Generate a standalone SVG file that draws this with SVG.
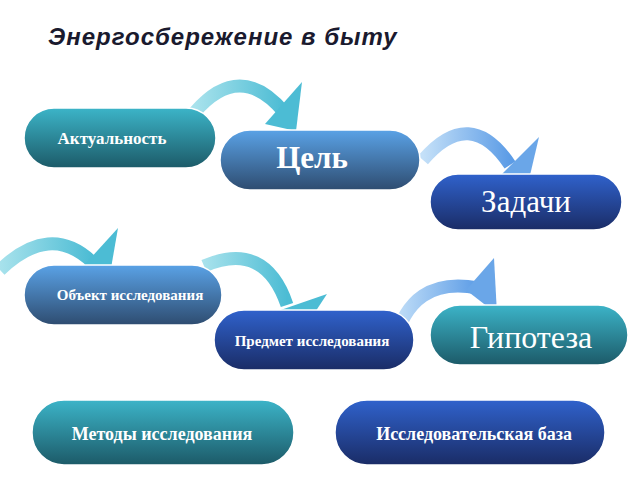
<svg xmlns="http://www.w3.org/2000/svg" width="640" height="480" viewBox="0 0 640 480">
<defs>
<linearGradient id="teal" x1="0" y1="0" x2="0" y2="1"><stop offset="0" stop-color="#3cb4c8"/><stop offset="1" stop-color="#1c5a68"/></linearGradient>
<linearGradient id="steel" x1="0" y1="0" x2="0" y2="1"><stop offset="0" stop-color="#5aa2e6"/><stop offset="1" stop-color="#2e4c70"/></linearGradient>
<linearGradient id="dark" x1="0" y1="0" x2="0" y2="1"><stop offset="0" stop-color="#3062cc"/><stop offset="1" stop-color="#1a2c66"/></linearGradient>
<linearGradient id="arr" x1="0" y1="0" x2="1" y2="0"><stop offset="0" stop-color="#a8e2ec"/><stop offset="1" stop-color="#4cbcd4"/></linearGradient>
<linearGradient id="arrb" x1="0" y1="0" x2="1" y2="0"><stop offset="0" stop-color="#c4e0f8"/><stop offset="1" stop-color="#5c9ce6"/></linearGradient>
</defs>
<style>
.n{stroke:#ffffff;stroke-width:1.5}
.t{font-family:"Liberation Serif",serif;fill:#ffffff;text-anchor:middle}
.b{font-weight:bold}
.a{fill:none;stroke-width:13;stroke-linecap:butt}
</style>
<rect width="640" height="480" fill="#ffffff"/>
<text x="48" y="45" font-family="Liberation Sans,Arial,sans-serif" font-size="24" font-weight="bold" font-style="italic" fill="#1a1a2e" letter-spacing="1">Энергосбережение в быту</text>
<g id="connectors">
<path class="a" stroke="url(#arr)" d="M195,112 Q240,60 284,112"/><polygon fill="#4cbcd4" points="302,82 265,124 296,131"/>
<path class="a" stroke="url(#arrb)" d="M423,160 Q470,105 510,165"/><polygon fill="#6aa6e8" points="539,137 500,176 527,188"/>
<path class="a" stroke="url(#arr)" d="M0,270 Q50,222 92,262"/><polygon fill="#4cbcd4" points="118,228 78,272 110,274"/>
<path class="a" stroke="url(#arr)" d="M204,266 Q265,240 287,305"/><polygon fill="#4cbcd4" points="327,294 272,313 302,332"/>
<path class="a" stroke="url(#arrb)" d="M394,345 Q410,275 478,288"/><polygon fill="#6aa6e8" points="494,258 497,314 466,290"/>
</g>
<g id="n1"><rect class="n" x="24" y="108" width="192" height="60" rx="30" fill="url(#teal)"/><text class="t b" x="112" y="144" font-size="17">Актуальность</text></g>
<g id="n2"><rect class="n" x="220" y="130" width="200" height="60" rx="30" fill="url(#steel)"/><text class="t b" x="312" y="168" font-size="31">Цель</text></g>
<g id="n3"><rect class="n" x="430" y="174" width="192" height="56" rx="28" fill="url(#dark)"/><text class="t" x="526" y="212" font-size="31">Задачи</text></g>
<g id="n4"><rect class="n" x="24" y="265" width="198" height="60" rx="30" fill="url(#steel)"/><text class="t b" x="130" y="300" font-size="15">Объект исследования</text></g>
<g id="n5"><rect class="n" x="214" y="310" width="200" height="60" rx="30" fill="url(#dark)"/><text class="t b" x="312" y="346" font-size="15">Предмет исследования</text></g>
<g id="n6"><rect class="n" x="430" y="305" width="198" height="60" rx="30" fill="url(#teal)"/><text class="t" x="531" y="348" font-size="32">Гипотеза</text></g>
<g id="n7"><rect class="n" x="32" y="400" width="262" height="65" rx="32" fill="url(#teal)"/><text class="t b" x="162" y="440" font-size="18">Методы исследования</text></g>
<g id="n8"><rect class="n" x="335" y="400" width="270" height="65" rx="32" fill="url(#dark)"/><text class="t b" x="474" y="440" font-size="18">Исследовательская база</text></g>
</svg>
